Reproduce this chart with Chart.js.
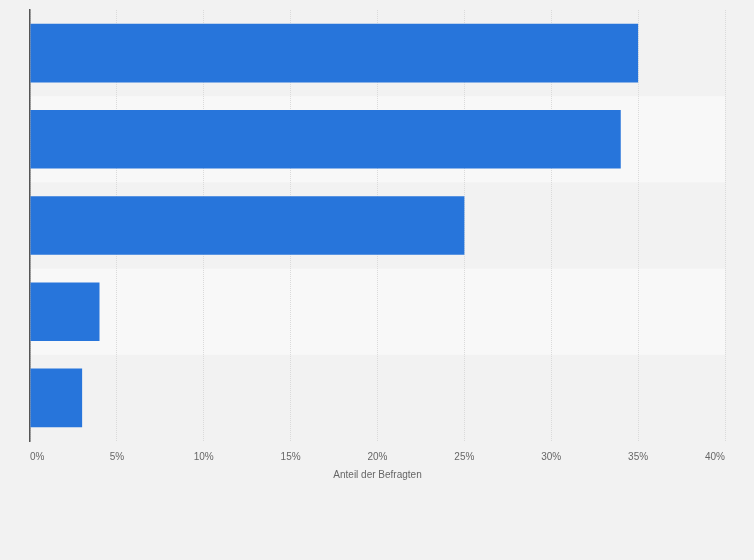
<!DOCTYPE html>
<html>
<head>
<meta charset="utf-8">
<script src="https://cdn.jsdelivr.net/npm/chart.js@4"></script>
<style>
  html, body { margin: 0; padding: 0; background: #f2f2f2; }
  #wrap { width: 754px; height: 560px; }
</style>
</head>
<body>
<div id="wrap"><canvas id="chart" width="754" height="560"></canvas></div>
<script>
// category names are not shown in the picture
const categories = ['1', '2', '3', '4', '5'];
const shares = [35, 34, 25, 4, 3];
const xTicks = [0, 5, 10, 15, 20, 25, 30, 35, 40];
const axisTitle = 'Anteil der Befragten';

// alternating row stripes behind the bars
const stripes = {
    id: 'stripes',
    beforeDraw(chart) {
        const { ctx, chartArea, scales } = chart;
        const y = scales.y;
        ctx.save();
        categories.forEach((c, i) => {
            if (i % 2 === 0) return;
            const top = y.getPixelForValue(i - 0.5);
            const bottom = y.getPixelForValue(i + 0.5);
            ctx.fillStyle = '#f8f8f8';
            ctx.fillRect(chartArea.left, top, chartArea.right - chartArea.left, bottom - top);
        });
        ctx.restore();
    }
};

const ctx = document.getElementById('chart').getContext('2d');
new Chart(ctx, {
    type: 'bar',
    data: {
        labels: categories,
        datasets: [{
            data: shares,
            backgroundColor: '#2775db',
            borderWidth: 0,
            categoryPercentage: 1,
            barPercentage: 0.68
        }]
    },
    options: {
        indexAxis: 'y',
        responsive: false,
        animation: false,
        layout: { padding: { left: 30, right: 29, top: 10, bottom: 79 } },
        plugins: { legend: { display: false }, tooltip: { enabled: false } },
        scales: {
            x: {
                min: 0,
                max: 40,
                afterBuildTicks: axis => { axis.ticks = xTicks.map(v => ({ value: v })); },
                grid: { color: '#dadada', lineWidth: 1, drawTicks: false },
                border: { display: false, dash: [1, 1] },
                ticks: {
                    padding: 10,
                    align: 'inner',
                    color: '#666',
                    font: { family: 'Liberation Sans, Arial', size: 10 },
                    callback: v => v + '%'
                },
                title: {
                    display: true,
                    text: axisTitle,
                    color: '#666',
                    font: { family: 'Liberation Sans, Arial', size: 10 },
                    padding: { top: -4, bottom: 0 }
                }
            },
            y: {
                grid: { display: false, drawTicks: false },
                border: { display: true, color: '#555', width: 1.5 },
                ticks: { display: false }
            }
        }
    },
    plugins: [stripes]
});
</script>
</body>
</html>
